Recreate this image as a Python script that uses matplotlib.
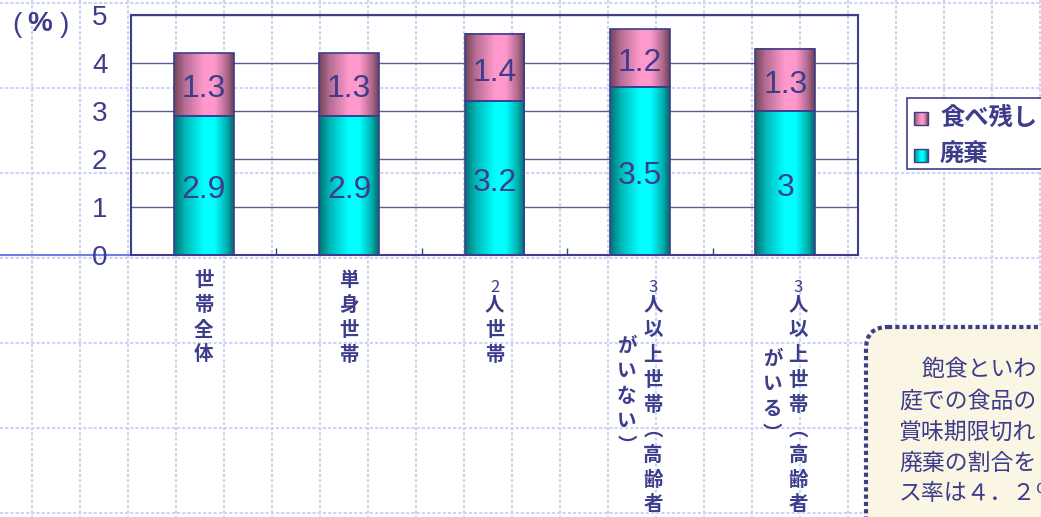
import matplotlib
matplotlib.use("Agg")
import matplotlib.pyplot as plt
import numpy as np
from matplotlib import transforms
from matplotlib.colors import to_rgb
from matplotlib.patches import FancyBboxPatch, Rectangle

# household food-loss rate (%), split into discarded food and plate waste
categories = [
    "世帯全体",
    "単身世帯",
    "2人世帯",
    "3人以上世帯（高齢者がいない）",
    "3人以上世帯（高齢者がいる）",
]
waste = [2.9, 2.9, 3.2, 3.5, 3.0]
leftovers = [1.3, 1.3, 1.4, 1.2, 1.3]
series_names = ["食べ残し", "廃棄"]
yticks = [0, 1, 2, 3, 4, 5]
note_lines = ["　飽食といわ", "庭での食品の", "賞味期限切れ", "廃棄の割合を", "ス率は４．２％"]

W, H = 1041, 517
NAVY = "#3d3d8c"
GRID_BG = "#c9d4f6"
CYAN = "#00ffff"
PINK = "#ff99cc"
LATIN = ["Liberation Sans", "DejaVu Sans"]
CJK = ["Noto Sans CJK JP", "DejaVu Sans"]
VERTICAL_FORMS = {"（": "︵", "）": "︶"}


def cylinder(base, n=80):
    """Horizontal shading strip that makes a flat bar look like a cylinder."""
    t = np.linspace(0, 1, n)
    k = np.interp(t, [0, 0.18, 0.5, 0.68, 0.88, 1], [0.45, 0.72, 1.0, 1.0, 0.7, 0.42])
    rgb = np.array(to_rgb(base))[None, :] * k[:, None]
    return rgb[None, :, :]


fig = plt.figure(figsize=(W / 100, H / 100), dpi=100)
fig.patch.set_facecolor("white")

# slide background: dashed graph-paper grid
bg = fig.add_axes([0, 0, 1, 1], zorder=0)
bg.axis("off")
for gx in np.arange(32, W, 48):
    bg.plot([gx, gx], [0, H], color=GRID_BG, lw=1.5, dashes=(1.5, 1))
for gy in np.arange(3, H, 85):
    bg.plot([0, W], [gy, gy], color=GRID_BG, lw=1.5, dashes=(1.5, 1))
bg.plot([0, 131], [255, 255], color="#6b82e6", lw=1.5)
bg.set_xlim(0, W)
bg.set_ylim(H, 0)

# chart
ax = fig.add_axes([131 / W, (H - 255) / H, 727 / W, 240 / H], zorder=1)
ax.set_facecolor("none")
x = np.arange(len(categories))
width = 0.41
bars_w = ax.bar(x, waste, width, color="none", edgecolor=NAVY, lw=1.2, zorder=3)
bars_l = ax.bar(x, leftovers, width, bottom=waste, color="none", edgecolor=NAVY, lw=1.2, zorder=3)

for bars, vals, base in [(bars_w, waste, CYAN), (bars_l, leftovers, PINK)]:
    strip = cylinder(base)
    for rect, v in zip(bars, vals):
        x0, y0 = rect.get_x(), rect.get_y()
        x1, y1 = x0 + rect.get_width(), y0 + rect.get_height()
        ax.imshow(strip, extent=(x0, x1, y0, y1), aspect="auto",
                  interpolation="bilinear", zorder=2)
        ax.text(x0 + rect.get_width() / 2, y0 + rect.get_height() / 2 - 0.1, f"{v:g}",
                ha="center", va="center", fontsize=23, color=NAVY, family=LATIN, zorder=4)

ax.set_xlim(-0.5, len(categories) - 0.5)
ax.set_ylim(0, 5)
ax.set_yticks(yticks)
ax.set_yticklabels([str(t) for t in yticks], family=LATIN)
ax.tick_params(axis="y", length=0, pad=17, labelsize=20, labelcolor=NAVY)
ax.set_xticks(x[:-1] + 0.5)
ax.set_xticklabels([])
ax.tick_params(axis="x", direction="in", length=5, width=1, color=NAVY)
ax.set_axisbelow(True)
ax.yaxis.grid(True, color="#5c5c9c", lw=1)
for side in ax.spines.values():
    side.set_color(NAVY)
    side.set_linewidth(1.5)

# overlay in pixel coordinates (y down) for labels, legend and note box
fg = fig.add_axes([0, 0, 1, 1], zorder=2)
fg.axis("off")

fg.text(17, 25, "(", ha="center", va="center", fontsize=20, color=NAVY, family=LATIN)
fg.text(40, 24, "%", ha="center", va="center", fontsize=20, color=NAVY, family=LATIN,
        fontweight="bold")
fg.text(64, 25, ")", ha="center", va="center", fontsize=20, color=NAVY, family=LATIN)

# category names written vertically, wrapping into columns right to left
blend = transforms.blended_transform_factory(ax.transData, fg.transData)
slot, top, per_col, col_gap = 25, 280, 10, 26
for i, name in enumerate(categories):
    cols = [name[j:j + per_col] for j in range(0, len(name), per_col)]
    mid = top + (len(cols[0]) - 1) * slot / 2
    for c, col in enumerate(cols):
        dx = col_gap * ((len(cols) - 1) / 2 - c)
        tr = transforms.offset_copy(blend, fig, x=dx, y=0, units="dots")
        start = mid + 4 * c - (len(col) - 1) * slot / 2
        for k, ch in enumerate(col):
            yy = start + k * slot
            if ch.isdigit():
                ax.text(i, yy + 7, ch, transform=tr, ha="center", va="center",
                        fontsize=12, color=NAVY, family=CJK, clip_on=False)
            else:
                ax.text(i, yy, VERTICAL_FORMS.get(ch, ch), transform=tr, ha="center",
                        va="center", fontsize=14, fontweight="bold", color=NAVY,
                        family=CJK, clip_on=False)

# legend
fg.add_patch(Rectangle((907, 98), 300, 71, facecolor="white", edgecolor=NAVY, lw=1.2))
for row, (label, base) in enumerate(zip(series_names, [PINK, CYAN])):
    cy = 118 + row * 37
    fg.imshow(cylinder(base), extent=(914, 928, cy + 7, cy - 6), aspect="auto",
              interpolation="bilinear", zorder=3)
    fg.add_patch(Rectangle((914, cy - 6), 14, 13, facecolor="none", edgecolor=NAVY,
                           lw=1, zorder=4))
    fg.text(940, cy, label, ha="left", va="center", fontsize=17.5, fontweight="bold",
            color=NAVY, family=CJK)

# note box
fg.add_patch(FancyBboxPatch((866, 327), 400, 300, boxstyle="round,pad=0,rounding_size=22",
                            facecolor="#fbf6e3", edgecolor=NAVY, lw=3,
                            linestyle=(0, (1, 0.75))))
for n, line in enumerate(note_lines):
    fg.text(899, 370 + n * 31, line, ha="left", va="center", fontsize=16.5, color=NAVY,
            family=CJK)

fg.set_xlim(0, W)
fg.set_ylim(H, 0)

fig.savefig("out.png", dpi=100, facecolor="white")
